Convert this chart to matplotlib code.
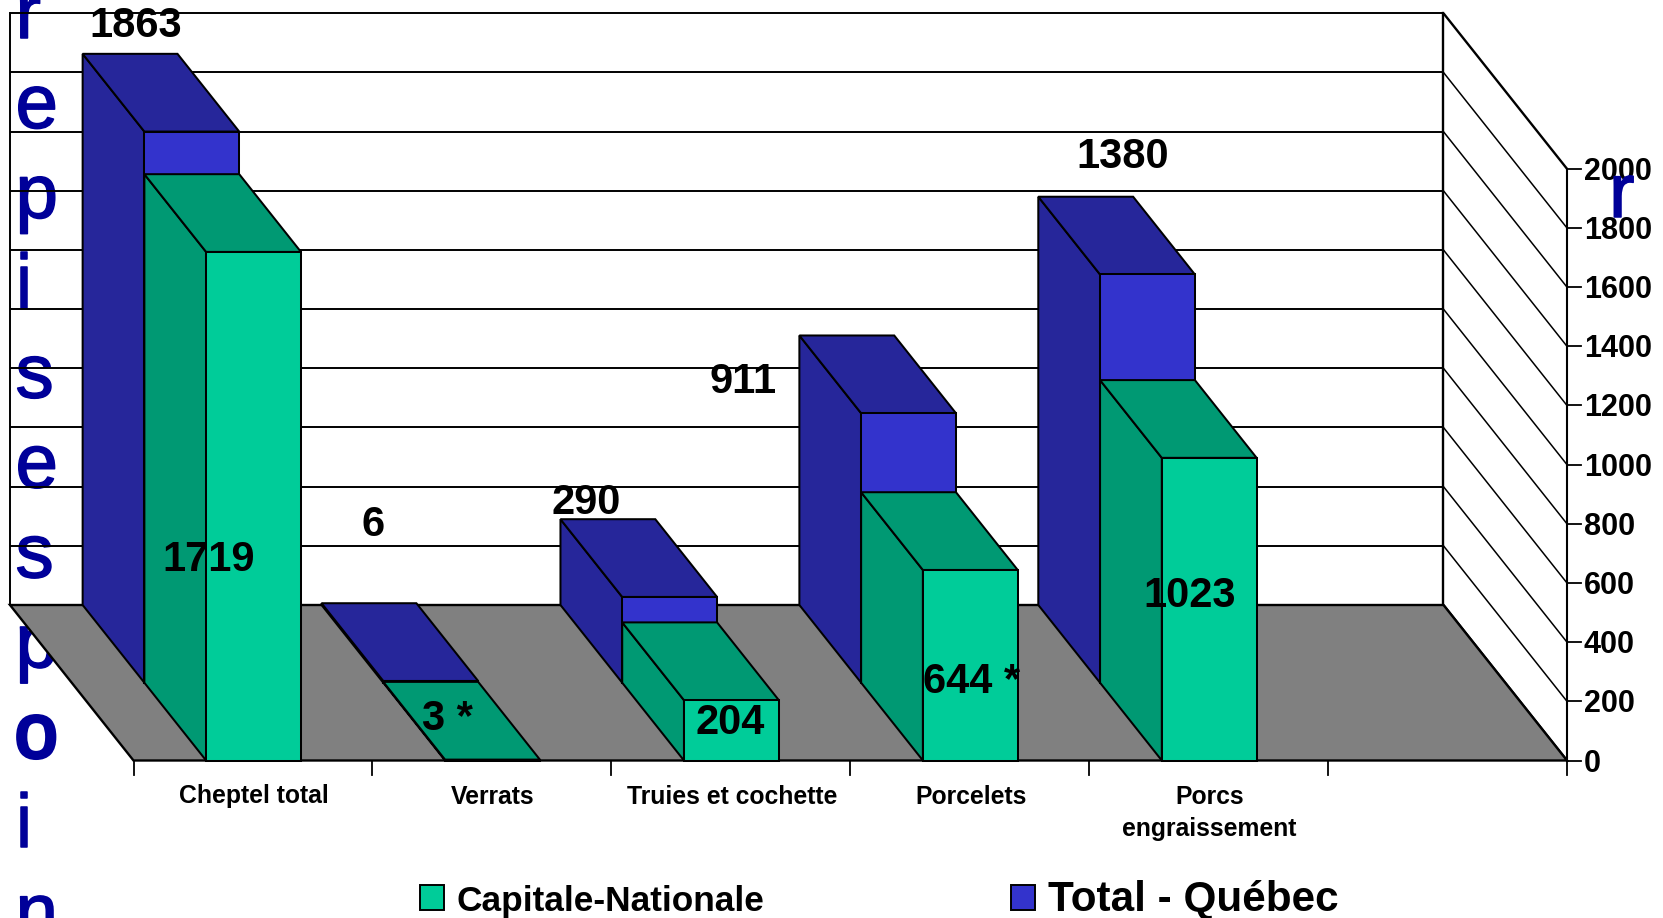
import matplotlib
matplotlib.use("Agg")
import matplotlib.pyplot as plt
import matplotlib.patheffects as pe
from matplotlib.patches import Polygon, Rectangle
from matplotlib.transforms import Affine2D

categories = ["Cheptel total", "Verrats", "Truies et cochette", "Porcelets", "Porcs\nengraissement"]
capitale = [1719, 3, 204, 644, 1023]
quebec = [1863, 6, 290, 911, 1380]
capitale_labels = ["1719", "3 *", "204", "644 *", "1023"]
quebec_labels = ["1863", "6", "290", "911", "1380"]
y_ticks = list(range(0, 2001, 200))
n_slots = 6

W, H = 1663, 918
X0, X1, Y0, Y1 = 133.5, 1567.0, 760.5, 168.8   # plot front plane in pixels
DPX, DPY = -123.5, -155.5                        # depth vector in pixels
FONT = "Liberation Sans"
BLACK = "#000000"
GREEN, GREEN_D = "#00CC99", "#009973"
BLUE, BLUE_D = "#3333CC", "#26269A"
FLOOR = "#808080"
LETTER = "#000099"

plt.rcParams["font.family"] = FONT
fig = plt.figure(figsize=(W / 100, H / 100), dpi=100, facecolor="white")
ax = fig.add_axes([0, 0, 1, 1])
ax.axis("off")
ux = (X1 - X0) / n_slots
uy = (Y0 - Y1) / 2000
ax.set_xlim(-X0 / ux, (W - X0) / ux)
ax.set_ylim(-(H - Y0) / uy, Y0 / uy)
px = Affine2D().scale(1 / W, -1 / H).translate(0, 1) + fig.transFigure
heavy = [pe.withStroke(linewidth=1.1, foreground=LETTER)]


def P(x, v, z=0.0):
    """Project (slot x, value v, depth z in 0..1) on to the axes' data space."""
    return (x + z * DPX / ux, v - z * DPY / uy)


def poly(pts, fc, z, lw=1.45, ec=BLACK):
    ax.add_patch(Polygon(pts, closed=True, facecolor=fc, edgecolor=ec, linewidth=lw,
                         zorder=z, joinstyle="miter"))


# stray vertical letters behind the chart
letters = ["r", "e", "p", "i", "s", "e", "s", "p", "o", "i", "n"]
for k, ch in enumerate(letters):
    ax.text(15.5, 38 + 89.9 * k, ch, transform=px, color=LETTER, fontsize=55,
            va="baseline", ha="left", zorder=1, path_effects=heavy)
ax.text(15.0, 38 + 89.9 * 8, "o", transform=px, color=LETTER, fontsize=55,
        va="baseline", ha="left", zorder=1,
        path_effects=[pe.withStroke(linewidth=3, foreground=LETTER)])

# walls
for v in y_ticks:
    ax.plot(*zip(P(0, v, 1), P(n_slots, v, 1)), color=BLACK, lw=1.4, zorder=2,
            solid_capstyle="butt")
    ax.plot(*zip(P(n_slots, v, 1), P(n_slots, v, 0)), color=BLACK, lw=1.1 if v not in (0, 2000) else 1.7,
            zorder=2, solid_capstyle="butt")
ax.plot(*zip(P(0, 0, 1), P(0, 2000, 1)), color=BLACK, lw=1.4, zorder=2)
ax.plot(*zip(P(n_slots, 0, 1), P(n_slots, 2000, 1)), color=BLACK, lw=1.7, zorder=2)

# floor
poly([P(0, 0, 0), P(n_slots, 0, 0), P(n_slots, 0, 1), P(0, 0, 1)], FLOOR, 3, lw=1.7)

# axes and ticks
tick_px = 14
ax.plot(*zip(P(n_slots, 0), P(n_slots, 2000)), color=BLACK, lw=1.5, zorder=4)
for i in range(n_slots + 1):
    x, y = P(i, 0)
    ax.plot([x, x], [y, y - tick_px / uy], color=BLACK, lw=1.3, zorder=4)
for v in y_ticks:
    x, y = P(n_slots, v)
    ax.plot([x, x + tick_px / ux], [y, y], color=BLACK, lw=1.3, zorder=4)
    ax.annotate(str(v), (x, y), xytext=(17, -3), textcoords="offset pixels", fontsize=22,
                fontweight="bold", ha="left", va="center", zorder=8)
for i, name in enumerate(categories):
    x, y = P(i + 0.5, 0)
    ax.annotate(name, (x, y), xytext=(1, -24), textcoords="offset pixels", fontsize=17.8,
                fontweight="bold", ha="center", va="top", linespacing=1.45, zorder=8)


def bar(i, value, z0, z1, front, dark, zo):
    l, r = i + 0.304, i + 0.701
    poly([P(l, 0, z0), P(l, 0, z1), P(l, value, z1), P(l, value, z0)], dark, zo)
    poly([P(l, value, z0), P(l, value, z1), P(r, value, z1), P(r, value, z0)], dark, zo)
    poly([P(l, 0, z0), P(r, 0, z0), P(r, value, z0), P(l, value, z0)], front, zo)


for i in range(len(categories)):
    bar(i, quebec[i], 0.5, 1.0, BLUE, BLUE_D, 5 + i * 0.01)
    bar(i, capitale[i], 0.0, 0.5, GREEN, GREEN_D, 5.5 + i * 0.01)

# data labels, offset in pixels from the top-front centre of each bar
q_off = [(-56, 106), (-57, 156), (-83, 94), (-165, 31), (-24, 117)]
c_off = [(-44, -308), (-44, 41), (-1, -23), (2, -112), (-19, -138)]
for i in range(len(categories)):
    ax.annotate(quebec_labels[i], P(i + 0.5, quebec[i], 0.5), xytext=q_off[i],
                textcoords="offset pixels", fontsize=30, fontweight="bold",
                ha="center", va="center", zorder=9)
    ax.annotate(capitale_labels[i], P(i + 0.5, capitale[i], 0), xytext=c_off[i],
                textcoords="offset pixels", fontsize=30, fontweight="bold",
                ha="center", va="center", zorder=9)

# legend
ax.add_patch(Rectangle((420, 885), 24, 25, transform=px, facecolor=GREEN, edgecolor=BLACK, lw=1.4, zorder=9))
ax.add_patch(Rectangle((1011, 885), 24, 25, transform=px, facecolor=BLUE, edgecolor=BLACK, lw=1.4, zorder=9))
ax.text(457, 901, "Capitale-Nationale", transform=px, fontsize=25.4, fontweight="bold", va="center", ha="left", zorder=9)
ax.text(1048, 900, "Total - Québec", transform=px, fontsize=30.4, fontweight="bold", va="center", ha="left", zorder=9)

# stray letter on the right
ax.text(1609, 217, "r", transform=px, color=LETTER, fontsize=55, va="baseline", ha="left", zorder=10,
        path_effects=heavy)

fig.savefig("out.png", dpi=100)
